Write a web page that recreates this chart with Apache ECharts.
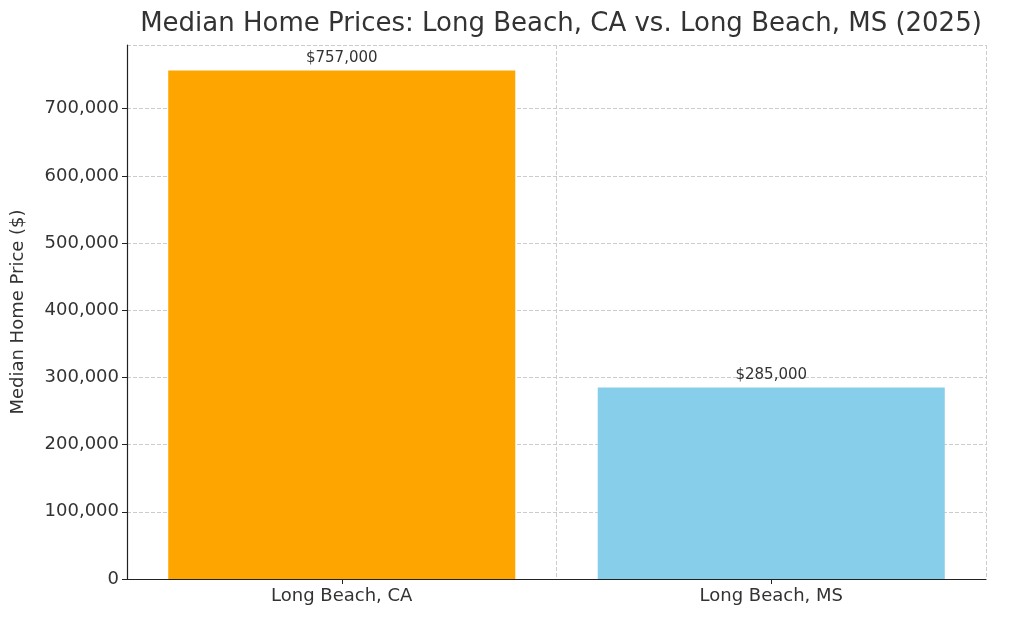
<!DOCTYPE html>
<html><head><meta charset="utf-8">
<script src="https://cdn.jsdelivr.net/npm/echarts@6/dist/echarts.min.js"></script>
<style>html,body{margin:0;padding:0;background:#fff}#c{width:1024px;height:619px}</style>
</head><body><div id="c"></div>
<script>
const categories = ["Long Beach, CA", "Long Beach, MS"];
const prices = [757000, 285000];
const barColors = ["#FFA500", "#87CEEB"];
const valueLabels = ["$757,000", "$285,000"];

const chart = echarts.init(document.getElementById('c'));
chart.setOption({
  animation: false,
  title: { text: "Median Home Prices: Long Beach, CA vs. Long Beach, MS (2025)", left: 556, top: 6, textAlign: 'center',
    textStyle: { fontFamily: 'DejaVu Sans', fontSize: 26, fontWeight: 'normal', color: '#333' } },
  grid: { left: 127, right: 38, top: 45, bottom: 40 },
  xAxis: { type: 'category', data: categories,
    axisLine: { lineStyle: { color: '#222', width: 1.2 } },
    axisTick: { show: true, alignWithLabel: true, length: 5, lineStyle: { color: '#222' } },
    axisLabel: { fontFamily: 'DejaVu Sans', fontSize: 18, color: '#333', margin: 8 },
    splitLine: { show: true, lineStyle: { type: 'dashed', color: '#ccc' } } },
  yAxis: { type: 'value', min: 0, max: 794850, interval: 100000,
    name: 'Median Home Price ($)', nameLocation: 'middle', nameGap: 100,
    nameTextStyle: { fontFamily: 'DejaVu Sans', fontSize: 18, color: '#333' },
    axisLine: { show: true, lineStyle: { color: '#222', width: 1.2 } },
    axisTick: { show: true, length: 5, lineStyle: { color: '#222' } },
    axisLabel: { fontFamily: 'DejaVu Sans', fontSize: 18, color: '#333', margin: 8, showMaxLabel: false },
    splitLine: { show: true, lineStyle: { type: 'dashed', color: '#ccc' } } },
  series: [{ type: 'bar', barWidth: '80.8%',
    data: prices.map((v, i) => ({ value: v, itemStyle: { color: barColors[i] } })),
    label: { show: true, position: 'top', distance: 5, fontFamily: 'DejaVu Sans', fontSize: 15, color: '#333',
      formatter: p => valueLabels[p.dataIndex] } }]
});
</script></body></html>
